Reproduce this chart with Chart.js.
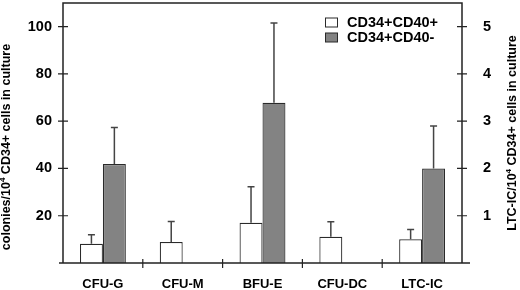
<!DOCTYPE html>
<html><head><meta charset="utf-8">
<script src="https://cdn.jsdelivr.net/npm/chart.js@4"></script>
<style>html,body{margin:0;padding:0;background:#fff}#wrap{width:520px;height:290px;position:relative}</style>
</head><body><div id="wrap"><canvas id="c"></canvas></div>
<script>
const categories = ['CFU-G', 'CFU-M', 'BFU-E', 'CFU-DC', 'LTC-IC'];
const seriesLabels = ['CD34+CD40+', 'CD34+CD40-'];
// colonies / 10^4 CD34+ cells (left axis)
const colonyPos    = [8.1, 8.9, 17.0, 11.1, null];
const colonyPosErr = [3.9, 8.7, 15.3, 6.3, null];
const colonyNeg    = [41.9, 0, 67.8, 0, null];
const colonyNegErr = [15.4, 0, 33.7, 0, null];
// LTC-IC / 10^4 CD34+ cells (right axis)
const ltcPos    = [null, null, null, null, 0.5];
const ltcPosErr = [null, null, null, null, 0.21];
const ltcNeg    = [null, null, null, null, 2.0];
const ltcNegErr = [null, null, null, null, 0.9];
const leftTicks = [20, 40, 60, 80, 100];
const rightTicks = [1, 2, 3, 4, 5];
const leftTitle = ['colonies/10', '4', ' CD34+ cells in culture'];
const rightTitle = ['LTC-IC/10', '4', ' CD34+ cells in culture'];

const FONT = '"Liberation Sans", Arial, Helvetica, sans-serif';
const WHITE = '#ffffff', GREY = '#838383', EDGE = '#2a2a2a', AXIS = '#222222';

const errorsByDataset = [colonyPosErr, colonyNegErr, ltcPosErr, ltcNegErr];

const errorBars = {
  id: 'errorBars',
  afterDatasetsDraw(chart) {
    const ctx = chart.ctx;
    ctx.save();
    ctx.strokeStyle = '#444';
    ctx.lineWidth = 1.5;
    chart.data.datasets.forEach((ds, di) => {
      const meta = chart.getDatasetMeta(di);
      const ys = chart.scales[ds.yAxisID];
      const errs = errorsByDataset[di];
      meta.data.forEach((bar, i) => {
        const v = ds.data[i], e = errs[i];
        if (v == null || !e) return;
        const yTop = ys.getPixelForValue(v + e);
        const x = bar.x;
        ctx.beginPath();
        ctx.moveTo(x, bar.y);
        ctx.lineTo(x, yTop);
        ctx.moveTo(x - 3.5, yTop);
        ctx.lineTo(x + 3.5, yTop);
        ctx.stroke();
      });
    });
    ctx.restore();
  }
};

function drawRotTitle(ctx, x, cy, parts, size) {
  ctx.save();
  ctx.translate(x, cy);
  ctx.rotate(-Math.PI / 2);
  ctx.fillStyle = '#000';
  ctx.textBaseline = 'middle';
  ctx.textAlign = 'left';
  const fonts = parts.map((p, i) => 'bold ' + (i === 1 ? Math.round(size * 0.62) : size) + 'px ' + FONT);
  let total = 0;
  const widths = parts.map((p, i) => { ctx.font = fonts[i]; const w = ctx.measureText(p).width; total += w; return w; });
  let px = -total / 2;
  parts.forEach((p, i) => {
    ctx.font = fonts[i];
    ctx.fillText(p, px, i === 1 ? -4 : 0);
    px += widths[i];
  });
  ctx.restore();
}

const frame = {
  id: 'frame',
  afterDraw(chart) {
    const ctx = chart.ctx;
    const a = chart.chartArea;
    ctx.save();
    ctx.strokeStyle = AXIS;
    ctx.lineWidth = 1.5;
    ctx.beginPath();
    ctx.moveTo(a.left, a.bottom);
    ctx.lineTo(a.left, a.top);
    ctx.lineTo(a.right, a.top);
    ctx.lineTo(a.right, a.bottom);
    ctx.moveTo(a.left - 4, a.bottom);
    ctx.lineTo(a.right + 8, a.bottom);
    ctx.stroke();
    ctx.lineWidth = 1.2;
    ctx.beginPath();
    chart.scales.y.ticks.forEach(t => {
      const y = chart.scales.y.getPixelForValue(t.value);
      ctx.moveTo(a.left - 5, y); ctx.lineTo(a.left + 5, y);
    });
    chart.scales.y2.ticks.forEach(t => {
      const y = chart.scales.y2.getPixelForValue(t.value);
      ctx.moveTo(a.right - 5, y); ctx.lineTo(a.right + 5, y);
    });
    const xs = chart.scales.x;
    for (let i = 1; i < categories.length; i++) {
      const x = (xs.getPixelForValue(i - 1) + xs.getPixelForValue(i)) / 2;
      ctx.moveTo(x, a.bottom - 4); ctx.lineTo(x, a.bottom + 5);
    }
    ctx.stroke();
    ctx.restore();

    drawRotTitle(ctx, 7, 147, leftTitle, 12.5);
    drawRotTitle(ctx, 513, 133, rightTitle, 12.5);

    ctx.save();
    ctx.font = 'bold 14.5px ' + FONT;
    ctx.textBaseline = 'middle';
    ctx.textAlign = 'left';
    const fills = [WHITE, GREY];
    seriesLabels.forEach((lab, i) => {
      const cy = 22.5 + i * 15;
      ctx.fillStyle = fills[i];
      ctx.fillRect(325, cy - 4.5, 12, 9);
      ctx.strokeStyle = EDGE;
      ctx.lineWidth = 1;
      ctx.strokeRect(325.5, cy - 4.5, 12, 9);
      ctx.fillStyle = '#000';
      ctx.fillText(lab, 347, cy + 0.5);
    });
    ctx.restore();
  }
};

const tickFont = { family: FONT, size: 14.5, weight: 'bold' };
const zeroPad = s => { s.paddingTop = 0; s.paddingBottom = 0; s.paddingLeft = 0; s.paddingRight = 0; };

new Chart(document.getElementById('c'), {
  type: 'bar',
  data: {
    labels: categories,
    datasets: [
      { label: seriesLabels[0], data: colonyPos, yAxisID: 'y', stack: 'a', backgroundColor: WHITE, borderColor: EDGE, borderWidth: 1.2 },
      { label: seriesLabels[1], data: colonyNeg, yAxisID: 'y', stack: 'b', backgroundColor: GREY, borderColor: EDGE, borderWidth: 1.2 },
      { label: seriesLabels[0], data: ltcPos, yAxisID: 'y2', stack: 'a', backgroundColor: WHITE, borderColor: EDGE, borderWidth: 1.2 },
      { label: seriesLabels[1], data: ltcNeg, yAxisID: 'y2', stack: 'b', backgroundColor: GREY, borderColor: EDGE, borderWidth: 1.2 }
    ]
  },
  options: {
    responsive: true,
    maintainAspectRatio: false,
    animation: false,
    layout: { padding: { top: 3, left: 0, right: 0, bottom: 0 } },
    datasets: { bar: { categoryPercentage: 0.575, barPercentage: 1.0 } },
    plugins: { legend: { display: false }, tooltip: { enabled: false } },
    scales: {
      x: {
        grid: { display: false, drawTicks: false },
        border: { display: false },
        ticks: { font: { family: FONT, size: 13, weight: 'bold' }, color: '#000', padding: 14, maxRotation: 0, autoSkip: false },
        afterFit: s => { s.height = 27; zeroPad(s); }
      },
      y: {
        position: 'left', min: 0, max: 110,
        grid: { display: false, drawTicks: false },
        border: { display: false },
        afterBuildTicks: s => { s.ticks = leftTicks.map(v => ({ value: v })); },
        ticks: { font: tickFont, color: '#000', padding: 11 },
        afterFit: s => { s.width = 63; zeroPad(s); }
      },
      y2: {
        position: 'right', min: 0, max: 5.5,
        grid: { display: false, drawTicks: false },
        border: { display: false },
        afterBuildTicks: s => { s.ticks = rightTicks.map(v => ({ value: v })); },
        ticks: { font: tickFont, color: '#000', padding: 21 },
        afterFit: s => { s.width = 58; zeroPad(s); }
      }
    }
  },
  plugins: [errorBars, frame]
});
</script>
</body></html>
